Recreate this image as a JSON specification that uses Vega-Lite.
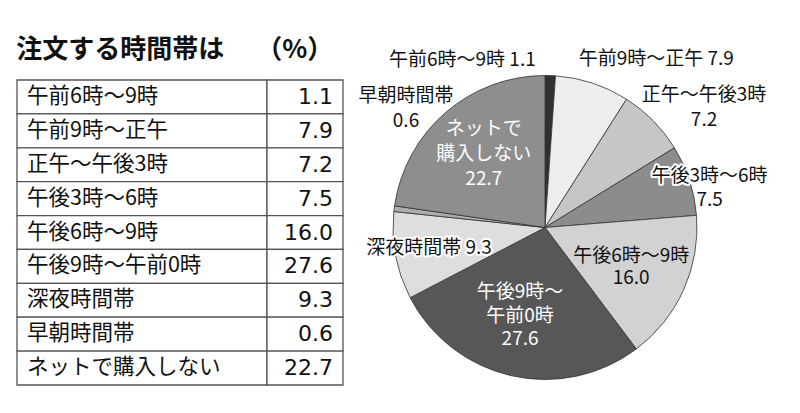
{
  "$schema": "https://vega.github.io/schema/vega-lite/v6.json",
  "background": "white",
  "padding": {"left": 16, "top": 35, "right": 0, "bottom": 0},
  "bounds": "flush",
  "spacing": 50,
  "config": {"view": {"stroke": null}, "font": "Noto Sans CJK JP", "concat": {"spacing": 50}},
  "datasets": {
    "d": [
      {"ord": 1, "cat": "午前6時～9時", "value": 1.1, "pieLabel": "午前6時～9時 1.1"},
      {"ord": 2, "cat": "午前9時～正午", "value": 7.9, "pieLabel": "午前9時～正午 7.9"},
      {"ord": 3, "cat": "正午～午後3時", "value": 7.2, "pieLabel": "正午～午後3時\n7.2"},
      {"ord": 4, "cat": "午後3時～6時", "value": 7.5, "pieLabel": "午後3時～6時\n7.5"},
      {"ord": 5, "cat": "午後6時～9時", "value": 16.0, "pieLabel": "午後6時～9時\n16.0"},
      {"ord": 6, "cat": "午後9時～午前0時", "value": 27.6, "pieLabel": "午後9時～\n午前0時\n27.6"},
      {"ord": 7, "cat": "深夜時間帯", "value": 9.3, "pieLabel": "深夜時間帯 9.3"},
      {"ord": 8, "cat": "早朝時間帯", "value": 0.6, "pieLabel": "早朝時間帯\n0.6"},
      {"ord": 9, "cat": "ネットで購入しない", "value": 22.7, "pieLabel": "ネットで\n購入しない\n22.7"}
    ]
  },
  "hconcat": [
    {
      "width": 326,
      "height": 305,
      "data": {"name": "d"},
      "title": {"text": "注文する時間帯は　 （%）", "anchor": "start", "fontSize": 26, "fontWeight": "bold", "offset": 16, "color": "#111", "font": "Noto Sans CJK JP"},
      "encoding": {
        "y": {"field": "cat", "type": "nominal", "sort": null, "axis": null, "scale": {"paddingInner": 0, "paddingOuter": 0}}
      },
      "layer": [
        {"mark": {"type": "rect", "fill": "white", "stroke": "#555", "strokeWidth": 1.3}, "encoding": {"x": {"value": 0}, "x2": {"value": 250}}},
        {"mark": {"type": "rect", "fill": "white", "stroke": "#555", "strokeWidth": 1.3}, "encoding": {"x": {"value": 250}, "x2": {"value": 326}}},
        {"mark": {"type": "text", "align": "left", "baseline": "middle", "fontSize": 21.5, "fill": "#111", "font": "Noto Sans CJK JP"}, "encoding": {"x": {"value": 10}, "text": {"field": "cat", "type": "nominal"}}},
        {"mark": {"type": "text", "align": "right", "baseline": "middle", "fontSize": 22, "fill": "#111", "font": "DejaVu Sans"}, "encoding": {"x": {"value": 316}, "text": {"field": "value", "type": "quantitative", "format": ".1f"}}}
      ]
    },
    {
      "width": 304,
      "height": 295,
      "data": {"name": "d"},
      "layer": [
        {"mark": {"type": "arc", "radius": 152, "stroke": "#333", "strokeWidth": 0.8},
         "encoding": {
           "theta": {"field": "value", "type": "quantitative", "stack": true},
           "order": {"field": "ord", "type": "quantitative"},
           "color": {"field": "cat", "type": "nominal", "legend": null,
           "scale": {"domain": ["午前6時～9時","午前9時～正午","正午～午後3時","午後3時～6時","午後6時～9時","午後9時～午前0時","深夜時間帯","早朝時間帯","ネットで購入しない"],
                     "range": ["#303030","#ededed","#c6c6c6","#8c8c8c","#d2d2d2","#575757","#dedede","#adadad","#8e8e8e"]}}}},
        {"mark": {"type": "text", "radius": 166, "align": "right", "baseline": "middle", "dx": -15, "dy": -2, "fontSize": 19, "lineHeight": 25, "lineBreak": "\n", "fill": "#111"},
         "encoding": {"theta": {"field": "value", "type": "quantitative", "stack": true}, "order": {"field": "ord", "type": "quantitative"},
           "text": {"condition": {"test": "datum.ord === 1", "field": "pieLabel", "type": "nominal"}, "value": ""}}},
        {"mark": {"type": "text", "radius": 175, "align": "left", "baseline": "middle", "dx": -21, "dy": -2, "fontSize": 19, "lineHeight": 25, "lineBreak": "\n", "fill": "#111"},
         "encoding": {"theta": {"field": "value", "type": "quantitative", "stack": true}, "order": {"field": "ord", "type": "quantitative"},
           "text": {"condition": {"test": "datum.ord === 2", "field": "pieLabel", "type": "nominal"}, "value": ""}}},
        {"mark": {"type": "text", "radius": 170, "align": "center", "baseline": "middle", "dx": 38, "dy": -13, "fontSize": 19, "lineHeight": 25, "lineBreak": "\n", "fill": "#111"},
         "encoding": {"theta": {"field": "value", "type": "quantitative", "stack": true}, "order": {"field": "ord", "type": "quantitative"},
           "text": {"condition": {"test": "datum.ord === 3", "field": "pieLabel", "type": "nominal"}, "value": ""}}},
        {"mark": {"type": "text", "radius": 170, "align": "center", "baseline": "middle", "dx": 3, "dy": 1, "fontSize": 19, "lineHeight": 24, "lineBreak": "\n", "fill": "#111", "stroke": "white", "strokeWidth": 4, "strokeJoin": "round"},
         "encoding": {"theta": {"field": "value", "type": "quantitative", "stack": true}, "order": {"field": "ord", "type": "quantitative"},
           "text": {"condition": {"test": "datum.ord === 4", "field": "pieLabel", "type": "nominal"}, "value": ""}}},
        {"mark": {"type": "text", "radius": 170, "align": "center", "baseline": "middle", "dx": 3, "dy": 1, "fontSize": 19, "lineHeight": 24, "lineBreak": "\n", "fill": "#111"},
         "encoding": {"theta": {"field": "value", "type": "quantitative", "stack": true}, "order": {"field": "ord", "type": "quantitative"},
           "text": {"condition": {"test": "datum.ord === 4", "field": "pieLabel", "type": "nominal"}, "value": ""}}},
        {"mark": {"type": "text", "radius": 100, "align": "center", "baseline": "middle", "dx": -5, "dy": -13, "fontSize": 19, "lineHeight": 22, "lineBreak": "\n", "fill": "#111"},
         "encoding": {"theta": {"field": "value", "type": "quantitative", "stack": true}, "order": {"field": "ord", "type": "quantitative"},
           "text": {"condition": {"test": "datum.ord === 5", "field": "pieLabel", "type": "nominal"}, "value": ""}}},
        {"mark": {"type": "text", "radius": 90, "align": "center", "baseline": "middle", "dx": -5, "dy": -23, "fontSize": 19, "lineHeight": 23.5, "lineBreak": "\n", "fill": "white"},
         "encoding": {"theta": {"field": "value", "type": "quantitative", "stack": true}, "order": {"field": "ord", "type": "quantitative"},
           "text": {"condition": {"test": "datum.ord === 6", "field": "pieLabel", "type": "nominal"}, "value": ""}}},
        {"mark": {"type": "text", "radius": 120, "align": "center", "baseline": "middle", "dx": 2, "dy": -2, "fontSize": 19, "lineHeight": 25, "lineBreak": "\n", "fill": "#111", "stroke": "white", "strokeWidth": 4, "strokeJoin": "round"},
         "encoding": {"theta": {"field": "value", "type": "quantitative", "stack": true}, "order": {"field": "ord", "type": "quantitative"},
           "text": {"condition": {"test": "datum.ord === 7", "field": "pieLabel", "type": "nominal"}, "value": ""}}},
        {"mark": {"type": "text", "radius": 120, "align": "center", "baseline": "middle", "dx": 2, "dy": -2, "fontSize": 19, "lineHeight": 25, "lineBreak": "\n", "fill": "#111"},
         "encoding": {"theta": {"field": "value", "type": "quantitative", "stack": true}, "order": {"field": "ord", "type": "quantitative"},
           "text": {"condition": {"test": "datum.ord === 7", "field": "pieLabel", "type": "nominal"}, "value": ""}}},
        {"transform": [{"filter": "datum.ord === 8"}],
         "mark": {"type": "text", "align": "center", "baseline": "middle", "dx": -139, "dy": -132, "fontSize": 19, "lineHeight": 25, "lineBreak": "\n", "fill": "#111"},
         "encoding": {"text": {"field": "pieLabel", "type": "nominal"}}},
        {"mark": {"type": "text", "radius": 95, "align": "center", "baseline": "middle", "dx": 1, "dy": -27, "fontSize": 19, "lineHeight": 25, "lineBreak": "\n", "fill": "white"},
         "encoding": {"theta": {"field": "value", "type": "quantitative", "stack": true}, "order": {"field": "ord", "type": "quantitative"},
           "text": {"condition": {"test": "datum.ord === 9", "field": "pieLabel", "type": "nominal"}, "value": ""}}}
      ]
    }
  ]
}
